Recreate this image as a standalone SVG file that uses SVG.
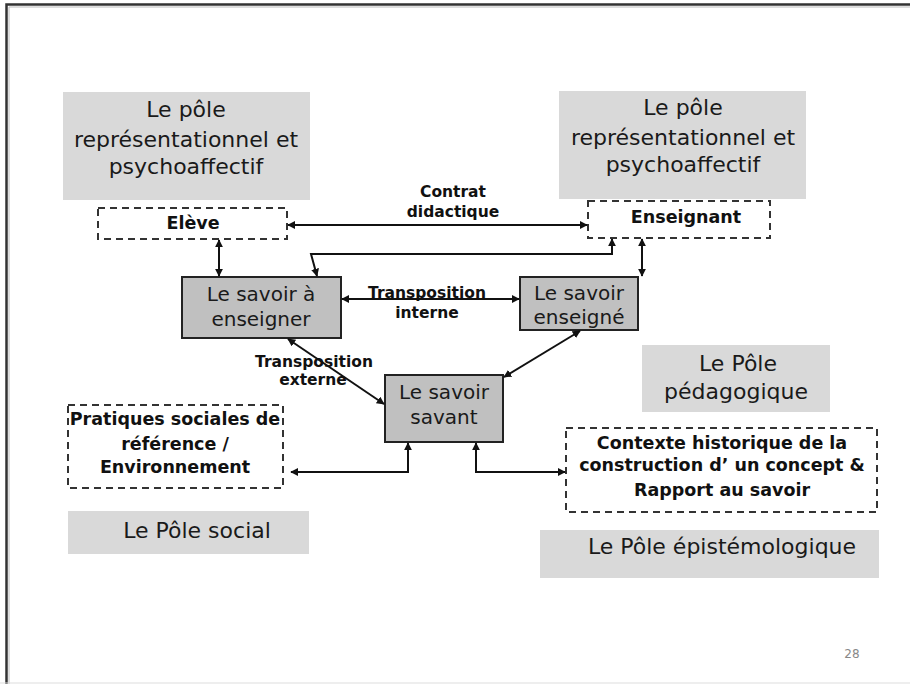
<svg xmlns="http://www.w3.org/2000/svg" width="910" height="684" viewBox="0 0 910 684">
<defs>
<marker id="ah" viewBox="0 0 10 10" refX="9" refY="5" markerWidth="4" markerHeight="4" orient="auto-start-reverse">
<path d="M0,0 L10,5 L0,10 z" fill="#111"/>
</marker>
<style>
.pole{fill:#d9d9d9}
.pt{font-family:"DejaVu Sans",Verdana,sans-serif;font-size:22px;fill:#1a1a1a;text-anchor:middle}
.sv{fill:#c0c0c0;stroke:#222;stroke-width:2}
.st{font-family:"DejaVu Sans",Verdana,sans-serif;font-size:20px;fill:#1a1a1a;text-anchor:middle}
.db{fill:#fff;stroke:#333;stroke-width:2;stroke-dasharray:7,5}
.bt{font-family:"DejaVu Sans",Verdana,sans-serif;font-size:17.5px;font-weight:bold;fill:#111;text-anchor:middle}
.lb{font-family:"DejaVu Sans",Verdana,sans-serif;font-size:15.5px;font-weight:bold;fill:#111;text-anchor:middle}
.c{fill:none;stroke:#111;stroke-width:2;marker-start:url(#ah);marker-end:url(#ah)}
</style>
</defs>
<rect width="910" height="684" fill="#fff"/>
<g id="frame">
<path d="M6.5,684 V4.5 H910" fill="none" stroke="#333" stroke-width="2.5"/>
<path d="M9,684 V7 H910" fill="none" stroke="#bbb" stroke-width="1"/>
<line x1="0" y1="683" x2="910" y2="683" stroke="#ddd" stroke-width="1"/>
</g>
<g id="pole-repr-left">
<rect class="pole" x="63" y="92" width="247" height="108"/>
<text class="pt" x="186" y="117">Le pôle</text>
<text class="pt" x="186" y="147">représentationnel et</text>
<text class="pt" x="186" y="174">psychoaffectif</text>
</g>
<g id="pole-repr-right">
<rect class="pole" x="559" y="91" width="247" height="108"/>
<text class="pt" x="683" y="115">Le pôle</text>
<text class="pt" x="683" y="145">représentationnel et</text>
<text class="pt" x="683" y="172">psychoaffectif</text>
</g>
<g id="eleve">
<rect class="db" x="98" y="208" width="189" height="31"/>
<text class="bt" x="193" y="229">Elève</text>
</g>
<g id="enseignant">
<rect class="db" x="588" y="201" width="182" height="37"/>
<text class="bt" x="686" y="223">Enseignant</text>
</g>
<g id="savoir-a-enseigner">
<rect class="sv" x="182" y="277" width="159" height="61"/>
<text class="st" x="261" y="301">Le savoir à</text>
<text class="st" x="261" y="326">enseigner</text>
</g>
<g id="savoir-enseigne">
<rect class="sv" x="520" y="277" width="118" height="53"/>
<text class="st" x="579" y="300">Le savoir</text>
<text class="st" x="579" y="324">enseigné</text>
</g>
<g id="savoir-savant">
<rect class="sv" x="385" y="375" width="118" height="67"/>
<text class="st" x="444" y="399">Le savoir</text>
<text class="st" x="444" y="424">savant</text>
</g>
<g id="pole-pedagogique">
<rect class="pole" x="642" y="345" width="188" height="67"/>
<text class="pt" x="738" y="371">Le Pôle</text>
<text class="pt" x="736" y="399">pédagogique</text>
</g>
<g id="pratiques">
<rect class="db" x="68" y="405" width="215" height="83"/>
<text class="bt" x="175" y="425">Pratiques sociales de</text>
<text class="bt" x="175" y="450">référence /</text>
<text class="bt" x="175" y="473">Environnement</text>
</g>
<g id="contexte">
<rect class="db" x="566" y="428" width="311" height="84"/>
<text class="bt" x="722" y="449">Contexte historique de la</text>
<text class="bt" x="722" y="471">construction d’ un concept &amp;</text>
<text class="bt" x="722" y="496">Rapport au savoir</text>
</g>
<g id="pole-social">
<rect class="pole" x="68" y="511" width="241" height="43"/>
<text class="pt" x="197" y="538">Le Pôle social</text>
</g>
<g id="pole-epistemologique">
<rect class="pole" x="540" y="530" width="339" height="48"/>
<text class="pt" x="722" y="554">Le Pôle épistémologique</text>
</g>
<g id="connectors">
<line class="c" x1="288" y1="225" x2="587" y2="225"/>
<line class="c" x1="219" y1="240" x2="219" y2="276"/>
<line class="c" x1="642" y1="239" x2="642" y2="276"/>
<polyline class="c" points="612,239 612,254 311,254 317,276"/>
<line class="c" x1="342" y1="299" x2="519" y2="299"/>
<line class="c" x1="288" y1="339" x2="384" y2="404"/>
<line class="c" x1="504" y1="377" x2="580" y2="331"/>
<polyline class="c" points="291,472 408,472 408,443"/>
<polyline class="c" points="476,443 476,472 565,472"/>
</g>
<g id="labels">
<text class="lb" x="453" y="197">Contrat</text>
<text class="lb" x="453" y="217">didactique</text>
<text class="lb" x="427" y="298">Transposition</text>
<text class="lb" x="427" y="318">interne</text>
<text class="lb" x="314" y="367">Transposition</text>
<text class="lb" x="313" y="385">externe</text>
</g>
<text x="852" y="658" font-family="DejaVu Sans,sans-serif" font-size="12" fill="#888" text-anchor="middle">28</text>
</svg>
